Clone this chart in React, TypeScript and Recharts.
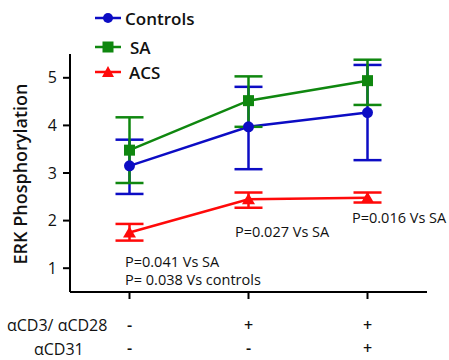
import React from "react"
import { LineChart, Line, XAxis, YAxis, ErrorBar } from "recharts"

const positions = [0, 1, 2]
const cd3Row = ["-", "+", "+"]
const cd31Row = ["-", "-", "+"]
const yTicks = [1, 2, 3, 4, 5]

const controls = [3.15, 3.97, 4.27]
const controlsErr = [
  [0.59, 0.55],
  [0.89, 0.84],
  [1.0, 1.0],
]
const sa = [3.48, 4.52, 4.94]
const saErr = [
  [0.69, 0.69],
  [0.55, 0.51],
  [0.51, 0.44],
]
const acs = [1.75, 2.45, 2.48]
const acsErr = [
  [0.17, 0.18],
  [0.18, 0.14],
  [0.1, 0.11],
]

const BLUE = "#0c0cc4"
const GREEN = "#0f870f"
const RED = "#ff0a0a"
const FONT = "'Open Sans', 'Liberation Sans', sans-serif"

const data = positions.map((p, i) => ({
  pos: p,
  controls: controls[i],
  controlsErr: controlsErr[i],
  sa: sa[i],
  saErr: saErr[i],
  acs: acs[i],
  acsErr: acsErr[i],
}))

const Circle = ({ cx, cy }: any) => <circle cx={cx} cy={cy} r={5.5} fill={BLUE} />
const Square = ({ cx, cy }: any) => (
  <rect x={cx - 5.5} y={cy - 5.5} width={11} height={11} fill={GREEN} />
)
const Triangle = ({ cx, cy }: any) => (
  <path d={`M${cx},${cy - 6} L${cx + 6.5},${cy + 5} L${cx - 6.5},${cy + 5} Z`} fill={RED} />
)

// sign rows under the x axis
const SignTick = ({ x, y, payload }: any) => {
  const i = payload.index
  return (
    <g fontFamily={FONT} fontSize={16} fontWeight={600} fill="#111" textAnchor="middle">
      <text x={x} y={y + 24} dominantBaseline="central">{cd3Row[i]}</text>
      <text x={x} y={y + 47} dominantBaseline="central">{cd31Row[i]}</text>
    </g>
  )
}

const legendItems = [
  { name: "Controls", color: BLUE, shape: "circle", top: 18, textLeft: 125 },
  { name: "SA", color: GREEN, shape: "square", top: 47, textLeft: 130 },
  { name: "ACS", color: RED, shape: "triangle", top: 72, textLeft: 129 },
]

const notes = [
  { text: "P=0.041 Vs SA", left: 125, top: 262 },
  { text: "P= 0.038 Vs controls", left: 125, top: 280 },
  { text: "P=0.027 Vs SA", left: 235, top: 232 },
  { text: "P=0.016 Vs SA", left: 352, top: 218 },
]

const abs = (left: number, top: number): React.CSSProperties => ({
  position: "absolute",
  left,
  top,
  transform: "translateY(-50%)",
  whiteSpace: "nowrap",
  fontFamily: FONT,
  color: "#111",
  lineHeight: 1,
})

export default function App() {
  return (
    <div style={{ position: "relative", width: 449, height: 360, background: "#fff", overflow: "hidden" }}>
      <style>{`body{margin:0}`}</style>
      <LineChart width={449} height={360} data={data} margin={{ top: 54, right: 22, left: 0, bottom: 0 }}>
        <XAxis
          type="number"
          dataKey="pos"
          domain={[-0.5, 2.5]}
          ticks={positions}
          axisLine={{ stroke: "#000", strokeWidth: 2 }}
          tickLine={{ stroke: "#000", strokeWidth: 2 }}
          tickSize={7}
          tickMargin={2}
          height={68}
          tick={<SignTick />}
        />
        <YAxis
          domain={[0.5, 5.5]}
          ticks={yTicks}
          width={70}
          axisLine={{ stroke: "#000", strokeWidth: 2 }}
          tickLine={{ stroke: "#000", strokeWidth: 2 }}
          tickSize={7}
          tickMargin={6}
          tick={{ fontFamily: FONT, fontSize: 16, fill: "#111" }}
        />
        <Line dataKey="controls" stroke={BLUE} strokeWidth={2.5} dot={<Circle />} isAnimationActive={false}>
          <ErrorBar dataKey="controlsErr" width={14} stroke={BLUE} strokeWidth={2.5} />
        </Line>
        <Line dataKey="sa" stroke={GREEN} strokeWidth={2.5} dot={<Square />} isAnimationActive={false}>
          <ErrorBar dataKey="saErr" width={14} stroke={GREEN} strokeWidth={2.5} />
        </Line>
        <Line dataKey="acs" stroke={RED} strokeWidth={2.5} dot={<Triangle />} isAnimationActive={false}>
          <ErrorBar dataKey="acsErr" width={14} stroke={RED} strokeWidth={2.5} />
        </Line>
      </LineChart>

      {/* legend */}
      {legendItems.map((it) => (
        <React.Fragment key={it.name}>
          <svg style={{ position: "absolute", left: 94, top: it.top - 7 }} width={28} height={14}>
            <line x1={1} y1={7} x2={27} y2={7} stroke={it.color} strokeWidth={2.5} />
            {it.shape === "circle" && <circle cx={14} cy={7} r={5} fill={it.color} />}
            {it.shape === "square" && <rect x={8.5} y={1.5} width={11} height={11} fill={it.color} />}
            {it.shape === "triangle" && <path d="M14,1 L20,12 L8,12 Z" fill={it.color} />}
          </svg>
          <div style={{ ...abs(it.textLeft, it.top), fontSize: 17, fontWeight: 600 }}>{it.name}</div>
        </React.Fragment>
      ))}

      {/* y axis title */}
      <div
        style={{
          position: "absolute",
          left: 20,
          top: 174,
          transform: "translate(-50%, -50%) rotate(-90deg)",
          whiteSpace: "nowrap",
          fontFamily: FONT,
          fontSize: 18,
          fontWeight: 600,
          color: "#111",
          lineHeight: 1,
        }}
      >
        ERK Phosphorylation
      </div>

      {notes.map((n) => (
        <div key={n.text} style={{ ...abs(n.left, n.top), fontSize: 14.5 }}>{n.text}</div>
      ))}

      {/* row labels */}
      <div style={{ ...abs(7, 325), fontSize: 16 }}>αCD3/ αCD28</div>
      <div style={{ ...abs(34, 349), fontSize: 16 }}>αCD31</div>
    </div>
  )
}
